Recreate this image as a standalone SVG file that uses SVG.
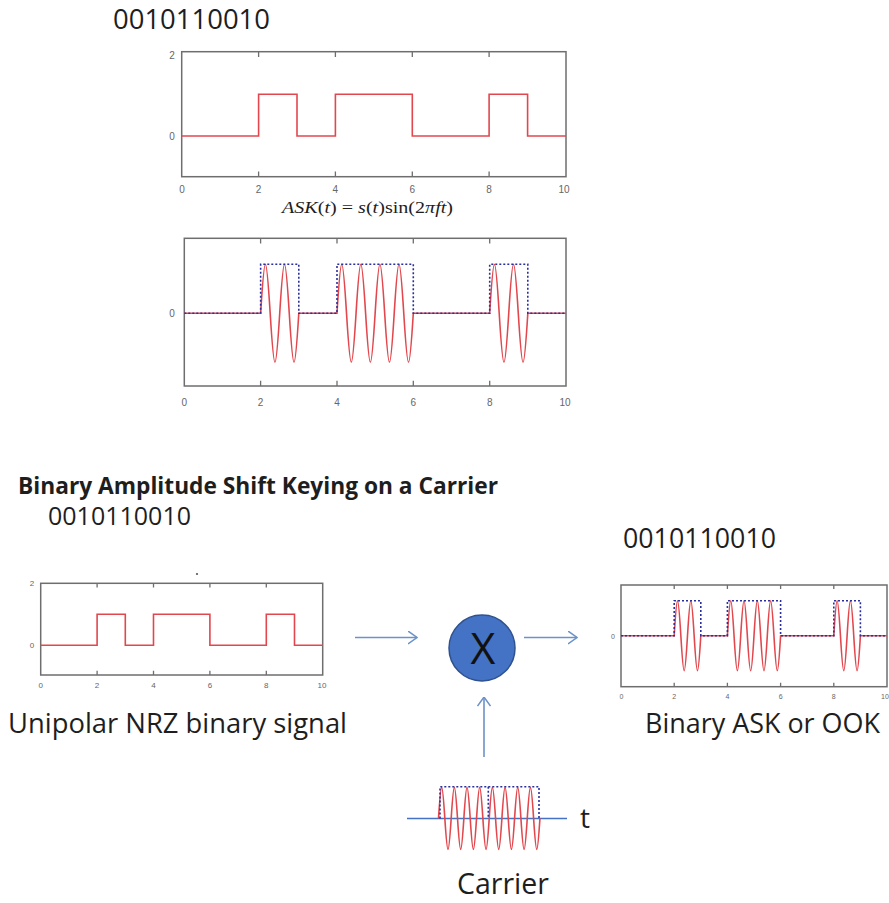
<svg xmlns="http://www.w3.org/2000/svg" width="889" height="903" viewBox="0 0 889 903">
<style>
.bg{fill:#ffffff}
.box{fill:none;stroke:#6e6e6e;stroke-width:1.5}
.tick{stroke:#6e6e6e;stroke-width:1.3}
.sig{fill:none;stroke:#e2474d;stroke-width:1.6;stroke-linejoin:miter}
.env{fill:none;stroke:#2b2f9e;stroke-width:1.6;stroke-dasharray:2 2}
.lab{font-family:"Liberation Sans",Arial,sans-serif;fill:#666;text-anchor:middle}
.txt{font-family:"Open Sans","Liberation Sans",sans-serif;fill:#1e1e1e}
.conn{fill:none;stroke:#6b93c9;stroke-width:1.6}
</style>
<defs>
<marker id="chev" viewBox="0 0 10 14" refX="9.5" refY="7" markerWidth="10" markerHeight="14" markerUnits="userSpaceOnUse" orient="auto">
<path d="M0.5,0.5 L9.5,7 L0.5,13.5" fill="none" stroke="#6b93c9" stroke-width="1.5"/>
</marker>
</defs>
<rect class="bg" x="0" y="0" width="889" height="903"/>

<g id="top-bits">
<text class="txt" x="113" y="28.5" font-size="28" textLength="157" lengthAdjust="spacingAndGlyphs">0010110010</text>
</g>

<g id="plot-nrz-top">
<rect class="box" x="181.7" y="51.7" width="384.3" height="125"/>
<path class="tick" d="M258.6,51.7V57M335.4,51.7V57M412.3,51.7V57M489.1,51.7V57M258.6,176.7V171.4M335.4,176.7V171.4M412.3,176.7V171.4M489.1,176.7V171.4"/>
<path class="sig" d="M181.7,136H258.6V94.3H297V136H335.4V94.3H412.3V136H489.1V94.3H527.6V136H566"/>
<g class="lab" font-size="10">
<text x="172" y="58.5">2</text>
<text x="172" y="139.5">0</text>
<text x="182" y="193">0</text>
<text x="258.6" y="193">2</text>
<text x="335.4" y="193">4</text>
<text x="412.3" y="193">6</text>
<text x="489.1" y="193">8</text>
<text x="564" y="193">10</text>
</g>
</g>

<g id="formula">
<text x="282" y="213" font-family="'Liberation Serif','Times New Roman',serif" font-size="17.5" fill="#1e1e1e" textLength="171" lengthAdjust="spacingAndGlyphs"><tspan font-style="italic">ASK</tspan>(<tspan font-style="italic">t</tspan>) = <tspan font-style="italic">s</tspan>(<tspan font-style="italic">t</tspan>)sin(2<tspan font-style="italic">πft</tspan>)</text>
</g>

<g id="plot-ask-top">
<rect class="box" x="184.3" y="238.3" width="381.7" height="147.7"/>
<path class="tick" d="M260.6,238.3V243.6M337,238.3V243.6M413.3,238.3V243.6M489.7,238.3V243.6M260.6,386V380.7M337,386V380.7M413.3,386V380.7M489.7,386V380.7"/>
<path class="sig" d="M184.3,313.3H260.64c4.05,-65.33 5.49,-65.33 9.54,0c4.05,65.33 5.49,65.33 9.54,0c4.05,-65.33 5.49,-65.33 9.54,0c4.05,65.33 5.49,65.33 9.54,0H336.98c4.05,-65.33 5.49,-65.33 9.54,0c4.05,65.33 5.49,65.33 9.54,0c4.05,-65.33 5.49,-65.33 9.54,0c4.05,65.33 5.49,65.33 9.54,0c4.05,-65.33 5.49,-65.33 9.54,0c4.05,65.33 5.49,65.33 9.54,0c4.05,-65.33 5.49,-65.33 9.54,0c4.05,65.33 5.49,65.33 9.54,0H489.66c4.05,-65.33 5.49,-65.33 9.54,0c4.05,65.33 5.49,65.33 9.54,0c4.05,-65.33 5.49,-65.33 9.54,0c4.05,65.33 5.49,65.33 9.54,0H566"/>
<path class="env" d="M184.3,313.3H260.64V264.3H298.8V313.3H337V264.3H413.3V313.3H489.7V264.3H527.8V313.3H566"/>
<g class="lab" font-size="10">
<text x="172" y="316.5">0</text>
<text x="184.3" y="406">0</text>
<text x="260.6" y="406">2</text>
<text x="337" y="406">4</text>
<text x="413.3" y="406">6</text>
<text x="489.7" y="406">8</text>
<text x="565" y="406">10</text>
</g>
</g>

<g id="title">
<text class="txt" x="18" y="494" font-size="23" font-weight="bold" textLength="480" lengthAdjust="spacingAndGlyphs">Binary Amplitude Shift Keying on a Carrier</text>
</g>

<g id="bits-left">
<text class="txt" x="48" y="525" font-size="25" textLength="143" lengthAdjust="spacingAndGlyphs">0010110010</text>
</g>

<g id="plot-nrz-bottom">
<rect class="box" x="40.7" y="583.3" width="282" height="91.7" stroke-width="1.3"/>
<path class="tick" d="M97.1,583.3V587.5M153.5,583.3V587.5M209.9,583.3V587.5M266.3,583.3V587.5M97.1,675V670.8M153.5,675V670.8M209.9,675V670.8M266.3,675V670.8"/>
<path class="sig" d="M40.7,645.3H97.1V614.3H125.3V645.3H153.5V614.3H209.9V645.3H266.3V614.3H294.5V645.3H322.7"/>
<circle cx="197" cy="574" r="1.1" fill="#555"/>
<g class="lab" font-size="8">
<text x="32" y="586">2</text>
<text x="32" y="648">0</text>
<text x="40.7" y="688">0</text>
<text x="97.1" y="688">2</text>
<text x="153.5" y="688">4</text>
<text x="209.9" y="688">6</text>
<text x="266.3" y="688">8</text>
<text x="322" y="688">10</text>
</g>
</g>

<g id="label-unipolar">
<text class="txt" x="8" y="733" font-size="28" textLength="339" lengthAdjust="spacingAndGlyphs">Unipolar NRZ binary signal</text>
</g>

<g id="multiplier">
<circle cx="482" cy="648" r="33" fill="#4472c4" stroke="#2f528f" stroke-width="1.5"/>
<text x="483" y="664" font-family="'Open Sans','Liberation Sans',sans-serif" font-size="43" fill="#111" text-anchor="middle">X</text>
</g>

<g id="bits-right">
<text class="txt" x="623" y="548" font-size="27" textLength="153" lengthAdjust="spacingAndGlyphs">0010110010</text>
</g>

<g id="plot-ask-bottom">
<rect class="box" x="621" y="585" width="266" height="101.7" stroke-width="1.3"/>
<path class="tick" d="M674.2,585V589M727.4,585V589M780.6,585V589M833.8,585V589M674.2,686.7V682.7M727.4,686.7V682.7M780.6,686.7V682.7M833.8,686.7V682.7"/>
<path class="sig" d="M621,635.7H674.2c2.820,-46.67 3.83,-46.67 6.65,0c2.82,46.67 3.83,46.67 6.65,0c2.82,-46.67 3.83,-46.67 6.65,0c2.82,46.67 3.83,46.67 6.65,0H727.4c2.82,-46.67 3.83,-46.67 6.65,0c2.82,46.67 3.83,46.67 6.65,0c2.82,-46.67 3.83,-46.67 6.65,0c2.82,46.67 3.83,46.67 6.65,0c2.82,-46.67 3.83,-46.67 6.65,0c2.82,46.67 3.83,46.67 6.65,0c2.82,-46.67 3.83,-46.67 6.65,0c2.82,46.67 3.83,46.67 6.65,0H833.8c2.82,-46.67 3.83,-46.67 6.65,0c2.82,46.67 3.83,46.67 6.65,0c2.82,-46.67 3.83,-46.67 6.65,0c2.82,46.67 3.83,46.67 6.65,0H887"/>
<path class="env" d="M621,635.7H674.2V600.7H700.8V635.7H727.4V600.7H780.6V635.7H833.8V600.7H860.4V635.7H887"/>
<g class="lab" font-size="7">
<text x="613" y="638.5">0</text>
<text x="621.5" y="698.5">0</text>
<text x="674.2" y="698.5">2</text>
<text x="727.4" y="698.5">4</text>
<text x="780.6" y="698.5">6</text>
<text x="833.8" y="698.5">8</text>
<text x="885" y="698.5">10</text>
</g>
</g>

<g id="label-ask">
<text class="txt" x="645" y="733" font-size="28" textLength="235" lengthAdjust="spacingAndGlyphs">Binary ASK or OOK</text>
</g>

<g id="carrier">
<path d="M407,818.4H567" fill="none" stroke="#4472c4" stroke-width="1.5"/>
<path class="sig" stroke-width="1.3" d="M438.5,818.4c2.69,-41.33 3.65,-41.33 6.34,0c2.69,41.33 3.65,41.33 6.34,0c2.69,-41.33 3.65,-41.33 6.34,0c2.69,41.33 3.65,41.33 6.34,0c2.69,-41.33 3.65,-41.33 6.34,0c2.69,41.33 3.65,41.33 6.34,0c2.69,-41.33 3.65,-41.33 6.34,0c2.69,41.33 3.65,41.33 6.34,0c2.69,-41.33 3.65,-41.33 6.34,0c2.69,41.33 3.65,41.33 6.34,0c2.69,-41.33 3.65,-41.33 6.34,0c2.69,41.33 3.65,41.33 6.34,0c2.69,-41.33 3.65,-41.33 6.34,0c2.69,41.33 3.65,41.33 6.34,0c2.69,-41.33 3.65,-41.33 6.34,0c2.69,41.33 3.65,41.33 6.34,0"/>
<path class="env" stroke-width="1.3" d="M440,818.4V786.7H539V818.4M488.3,786.7V818.4"/>
<text class="txt" x="580" y="828" font-size="28">t</text>
<text class="txt" x="457" y="894" font-size="30" textLength="92" lengthAdjust="spacingAndGlyphs">Carrier</text>
</g>

<g id="connectors">
<path class="conn" d="M355,637.5H417" marker-end="url(#chev)"/>
<path class="conn" d="M524,637.5H577" marker-end="url(#chev)"/>
<path class="conn" d="M484,757V697" marker-end="url(#chev)"/>
</g>
</svg>
